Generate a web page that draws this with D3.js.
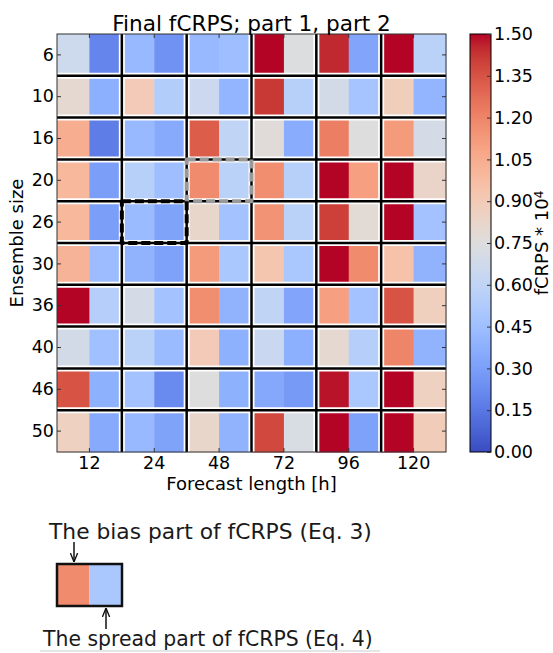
<!DOCTYPE html>
<html>
<head>
<meta charset="utf-8">
<script src="https://cdn.jsdelivr.net/npm/d3@7"></script>
<style>
  body { margin: 0; background: #fff; }
  text { font-family: "DejaVu Sans", sans-serif; }
</style>
</head>
<body>
<div id="chart"></div>
<script>
// data
const ensembleSizes = [6, 10, 16, 20, 26, 30, 36, 40, 46, 50];
const forecastLengths = [12, 24, 48, 72, 96, 120];
// bias part (left half of each box), rows = ensemble size
const biasPart = [
  [0.66, 0.42, 0.42, 1.50, 1.45, 1.50],
  [0.80, 0.90, 0.65, 1.42, 0.69, 0.88],
  [1.05, 0.42, 1.32, 0.77, 1.22, 1.12],
  [1.00, 0.56, 1.18, 1.17, 1.50, 1.50],
  [1.00, 0.43, 0.82, 1.15, 1.40, 1.50],
  [1.02, 0.39, 1.12, 0.93, 1.50, 0.95],
  [1.50, 0.70, 1.17, 0.60, 1.10, 1.35],
  [0.69, 0.57, 0.90, 0.64, 0.80, 1.20],
  [1.35, 0.47, 0.75, 0.34, 1.48, 1.50],
  [0.86, 0.42, 0.82, 1.38, 1.50, 1.50]
];
// spread part (right half of each box)
const spreadPart = [
  [0.20, 0.25, 0.45, 0.74, 0.33, 0.57],
  [0.37, 0.54, 0.40, 0.56, 0.48, 0.40],
  [0.17, 0.35, 0.60, 0.36, 0.75, 0.70],
  [0.30, 0.45, 0.57, 0.56, 1.10, 0.83],
  [0.30, 0.32, 0.47, 0.57, 0.78, 0.47],
  [0.44, 0.31, 0.50, 0.50, 1.18, 0.39],
  [0.55, 0.47, 0.39, 0.33, 0.47, 0.87],
  [0.46, 0.43, 0.38, 0.37, 0.55, 0.39],
  [0.38, 0.22, 0.38, 0.28, 0.50, 0.86],
  [0.35, 0.32, 0.39, 0.72, 0.31, 0.89]
];
const colorTicks = [0, 0.15, 0.30, 0.45, 0.60, 0.75, 0.90, 1.05, 1.20, 1.35, 1.50];
// legend example box values
const legendValues = [1.18, 0.50];

const width = 553, height = 653;
const plot = {left: 57, top: 34, right: 446, bottom: 452};
const cbar = {x: 470, w: 21};

// coolwarm colour map (Moreland), 0..1.5
const coolwarmStops = [
  [59,76,192],[68,90,204],[77,104,215],[87,117,225],[98,130,234],[108,142,241],
  [119,154,247],[130,165,251],[141,176,254],[152,185,255],[163,194,255],[174,201,253],
  [184,208,249],[194,213,244],[204,217,238],[213,219,230],[221,221,221],[229,216,209],
  [236,211,197],[241,204,185],[245,196,173],[247,187,160],[247,177,148],[247,166,135],
  [244,154,123],[241,141,111],[236,127,99],[229,112,88],[222,96,77],[213,80,66],
  [203,62,56],[192,40,47],[180,4,38]
];
const color = d3.scaleLinear()
  .domain(coolwarmStops.map((d, i) => 1.5 * i / (coolwarmStops.length - 1)))
  .range(coolwarmStops.map(c => `rgb(${c[0]},${c[1]},${c[2]})`))
  .clamp(true);

const svg = d3.select("#chart").append("svg")
  .attr("width", width)
  .attr("height", height);

// scales
const xScale = d3.scaleBand().domain(forecastLengths).range([plot.left, plot.right]);
const yScale = d3.scaleBand().domain(ensembleSizes).range([plot.top, plot.bottom]);
const half = xScale.bandwidth() / 2;

// cells
const cells = [];
ensembleSizes.forEach((e, i) => {
  forecastLengths.forEach((f, j) => {
    cells.push({e: e, f: f, part: 0, v: biasPart[i][j]});
    cells.push({e: e, f: f, part: 1, v: spreadPart[i][j]});
  });
});

svg.append("g").selectAll("rect")
  .data(cells)
  .enter()
  .append("rect")
    .attr("x", d => xScale(d.f) + d.part * half)
    .attr("y", d => yScale(d.e))
    .attr("width", half + 0.5)
    .attr("height", yScale.bandwidth() + 0.5)
    .attr("fill", d => color(d.v));

// separating lines: white band then black line
const vLines = forecastLengths.slice(1).map(f => xScale(f));
const hLines = ensembleSizes.slice(1).map(e => yScale(e));
const grid = svg.append("g");
[["#fff", 6], ["#000", 2.5]].forEach(([c, w]) => {
  grid.selectAll(null).data(vLines).enter().append("line")
    .attr("x1", d => d).attr("x2", d => d)
    .attr("y1", plot.top).attr("y2", plot.bottom)
    .attr("stroke", c).attr("stroke-width", w);
  grid.selectAll(null).data(hLines).enter().append("line")
    .attr("x1", plot.left).attr("x2", plot.right)
    .attr("y1", d => d).attr("y2", d => d)
    .attr("stroke", c).attr("stroke-width", w);
});

// dashed highlight boxes
const highlights = [
  {f: 48, e: 20, stroke: "#999"},
  {f: 24, e: 26, stroke: "#000"}
];
svg.append("g").selectAll("rect")
  .data(highlights)
  .enter()
  .append("rect")
    .attr("x", d => xScale(d.f))
    .attr("y", d => yScale(d.e))
    .attr("width", xScale.bandwidth())
    .attr("height", yScale.bandwidth())
    .attr("fill", "none")
    .attr("stroke", d => d.stroke)
    .attr("stroke-width", 4)
    .attr("stroke-linejoin", "round")
    .attr("stroke-dasharray", "9,4");

// frame
svg.append("rect")
  .attr("x", plot.left).attr("y", plot.top)
  .attr("width", plot.right - plot.left).attr("height", plot.bottom - plot.top)
  .attr("fill", "none").attr("stroke", "#333").attr("stroke-width", 1);

// axes
const yAxisL = svg.append("g")
  .attr("transform", `translate(${plot.left},0)`)
  .call(d3.axisLeft(yScale).tickSizeInner(-4).tickSizeOuter(0).tickPadding(3));
const yAxisR = svg.append("g")
  .attr("transform", `translate(${plot.right},0)`)
  .call(d3.axisRight(yScale).tickSizeInner(-4).tickSizeOuter(0).tickFormat(""));
const xAxisB = svg.append("g")
  .attr("transform", `translate(0,${plot.bottom})`)
  .call(d3.axisBottom(xScale).tickSizeInner(-4).tickSizeOuter(0).tickPadding(5));
const xAxisT = svg.append("g")
  .attr("transform", `translate(0,${plot.top})`)
  .call(d3.axisTop(xScale).tickSizeInner(-4).tickSizeOuter(0).tickFormat(""));
[yAxisL, yAxisR, xAxisB, xAxisT].forEach(a => {
  a.select(".domain").remove();
  a.selectAll("line").attr("stroke", "#333");
  a.selectAll("text").attr("font-size", "17.5px").attr("fill", "#000")
    .attr("font-family", "DejaVu Sans");
});

// titles
svg.append("text")
  .attr("x", (plot.left + plot.right) / 2).attr("y", 31)
  .attr("text-anchor", "middle").attr("font-size", "21.6px")
  .text("Final fCRPS; part 1, part 2");
svg.append("text")
  .attr("x", (plot.left + plot.right) / 2).attr("y", 490)
  .attr("text-anchor", "middle").attr("font-size", "18px")
  .text("Forecast length [h]");
svg.append("text")
  .attr("transform", `translate(23,${(plot.top + plot.bottom) / 2}) rotate(-90)`)
  .attr("text-anchor", "middle").attr("font-size", "18px")
  .text("Ensemble size");

// colour bar
const defs = svg.append("defs");
const grad = defs.append("linearGradient")
  .attr("id", "cw").attr("x1", "0%").attr("y1", "100%").attr("x2", "0%").attr("y2", "0%");
grad.selectAll("stop")
  .data(coolwarmStops)
  .enter()
  .append("stop")
    .attr("offset", (d, i) => (100 * i / (coolwarmStops.length - 1)) + "%")
    .attr("stop-color", d => `rgb(${d[0]},${d[1]},${d[2]})`);

const cScale = d3.scaleLinear().domain([0, 1.5]).range([plot.bottom, plot.top]);
svg.append("rect")
  .attr("x", cbar.x).attr("y", plot.top)
  .attr("width", cbar.w).attr("height", plot.bottom - plot.top)
  .attr("fill", "url(#cw)").attr("stroke", "#000").attr("stroke-width", 1);
const cAxis = svg.append("g")
  .attr("transform", `translate(${cbar.x + cbar.w},0)`)
  .call(d3.axisRight(cScale).tickValues(colorTicks).tickFormat(d3.format(".2f"))
    .tickSizeInner(-4).tickSizeOuter(0).tickPadding(3));
cAxis.select(".domain").remove();
cAxis.selectAll("line").attr("stroke", "#333");
cAxis.selectAll("text").attr("font-size", "17.5px").attr("fill", "#000")
  .attr("font-family", "DejaVu Sans");

const cLabel = svg.append("text")
  .attr("transform", `translate(548,${(plot.top + plot.bottom) / 2}) rotate(-90)`)
  .attr("text-anchor", "middle").attr("font-size", "18px");
cLabel.append("tspan").text("fCRPS * 10");
cLabel.append("tspan").attr("dy", "-0.45em").attr("font-size", "12px").text("4");

// legend explaining the two halves
const legend = {x: 57, y: 564, w: 65, h: 42};
svg.append("g").selectAll("rect")
  .data(legendValues)
  .enter()
  .append("rect")
    .attr("x", (d, i) => legend.x + i * legend.w / 2)
    .attr("y", legend.y)
    .attr("width", legend.w / 2)
    .attr("height", legend.h)
    .attr("fill", d => color(d));
svg.append("rect")
  .attr("x", legend.x).attr("y", legend.y)
  .attr("width", legend.w).attr("height", legend.h)
  .attr("fill", "none").attr("stroke", "#111").attr("stroke-width", 2.5);

defs.append("marker")
  .attr("id", "arrow").attr("viewBox", "0 0 10 10")
  .attr("refX", 10).attr("refY", 5)
  .attr("markerWidth", 6).attr("markerHeight", 6)
  .attr("orient", "auto")
  .append("path").attr("d", "M0,1 L10,5 L0,9").attr("fill", "none")
  .attr("stroke", "#111").attr("stroke-width", 1.5);

svg.append("line")
  .attr("x1", 74).attr("x2", 74).attr("y1", 542).attr("y2", 562)
  .attr("stroke", "#111").attr("stroke-width", 1.5).attr("marker-end", "url(#arrow)");
svg.append("line")
  .attr("x1", 106).attr("x2", 106).attr("y1", 629).attr("y2", 608)
  .attr("stroke", "#111").attr("stroke-width", 1.5).attr("marker-end", "url(#arrow)");

svg.append("text")
  .attr("x", 49).attr("y", 539).attr("font-size", "21.8px").attr("fill", "#1a1a1a")
  .text("The bias part of fCRPS (Eq. 3)");
svg.append("text")
  .attr("x", 43).attr("y", 646).attr("font-size", "20.4px").attr("fill", "#1a1a1a")
  .text("The spread part of fCRPS (Eq. 4)");
svg.append("line")
  .attr("x1", 40).attr("x2", 380).attr("y1", 651).attr("y2", 651)
  .attr("stroke", "#ccc").attr("stroke-width", 1);
</script>
</body>
</html>
